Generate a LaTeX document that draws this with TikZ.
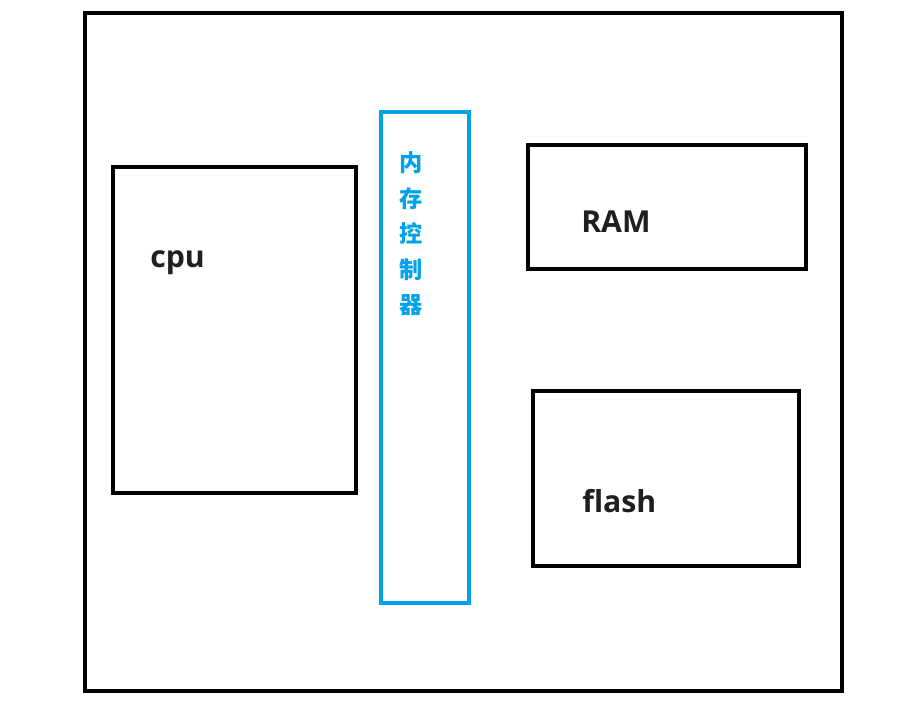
\documentclass[tikz,border=0pt]{standalone}
\usepackage{fontspec}
\setmainfont{Open Sans}
\newfontfamily\cjk{Noto Sans CJK SC}
\usetikzlibrary{positioning}
\definecolor{ctrlblue}{RGB}{0,162,232}

\begin{document}
\begin{tikzpicture}[x=0.025cm,y=-0.025cm]
\tikzset{box/.style={draw=black,line width=3.1pt,inner sep=0pt},
  lbl/.style={font=\bfseries\fontsize{21.5}{25}\selectfont,text=black!88,inner sep=0pt,anchor=base west}}
\useasboundingbox (0,0) rectangle (912,718);
\node[box,minimum width=18.925cm,minimum height=16.95cm] (board) at (463.5,352) {};
\node[box,minimum width=6.075cm,minimum height=8.15cm] (cpu) at (234.5,330) {};
\node[box,draw=ctrlblue,line width=2.8pt,minimum width=2.2cm,minimum height=12.275cm] (ctrl) at (425,357.5) {};
\node[box,minimum width=6.95cm,minimum height=3.1cm] (ram) at (667,207) {};
\node[box,minimum width=6.65cm,minimum height=4.375cm] (flash) at (666,478.5) {};
\node[lbl] (cpu_t) at (150,267) {cpu};
\node[lbl] (ram_t) at (581,232) {RAM};
\node[lbl] (flash_t) at (582,512) {flash};
\node[align=center,text=ctrlblue,font=\cjk\bfseries\fontsize{16.5}{25.2}\selectfont,inner sep=0pt] (ctrl_t) at (411,234) {内\\存\\控\\制\\器};
\end{tikzpicture}
\end{document}
